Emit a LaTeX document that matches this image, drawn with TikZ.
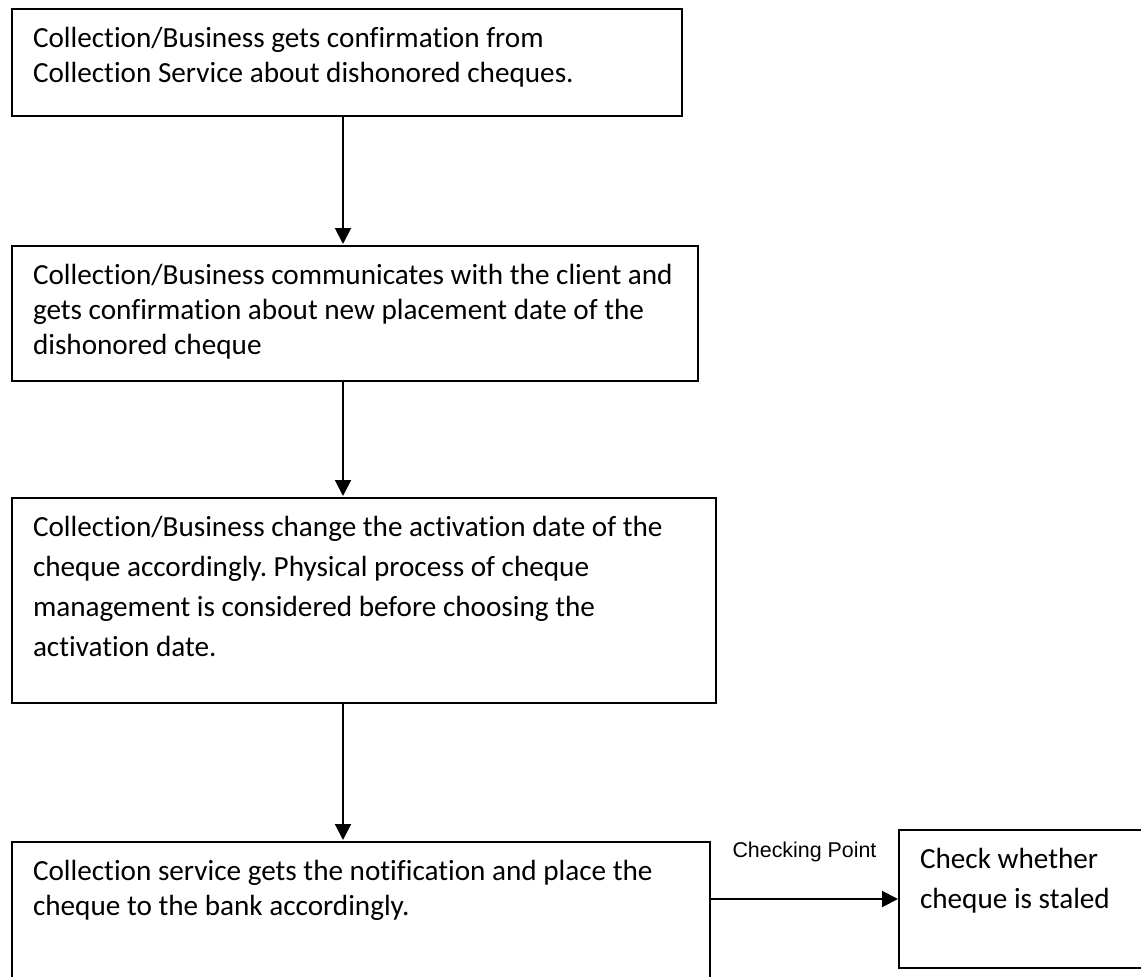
\documentclass[tikz,border=0pt]{standalone}
\usepackage{fontspec}
\setmainfont[Ligatures=CommonOff]{Carlito}
\newfontfamily\labelfont{Liberation Sans}
\usetikzlibrary{arrows.meta}
\setlength\parindent{0pt}
\frenchspacing

% #1 box width, #2 box height, #3 line spacing, #4 lines of text (top aligned)
\newcommand\flowtext[4]{%
  \parbox[c][#2][t]{#1}{\fontsize{29.2pt}{#3}\selectfont
    \leftskip=21pt\relax\rule{0pt}{38pt}#4}}

\begin{document}
\begin{tikzpicture}[x=1pt,y=-1pt,
  stepbox/.style={draw, line width=2.2pt, anchor=north west,
    inner sep=0pt, outer sep=0pt},
  flow/.style={line width=2pt, -{Triangle[length=16pt,width=16pt]},
    shorten >=2pt},
  tag/.style={font=\labelfont\fontsize{21.4pt}{25pt}\selectfont}]
\useasboundingbox (0,0) rectangle (1141,977);
\clip (0,0) rectangle (1141,977);
\fill[white] (0,0) rectangle (1141,977);

% process steps
\node[stepbox] (b1) at (12,9) {\flowtext{670pt}{107pt}{35pt}{%
  Collection/Business gets confirmation from\\
  Collection Service about dishonored cheques.}};
\node[stepbox] (b2) at (12,246) {\flowtext{686pt}{135pt}{35pt}{%
  Collection/Business communicates with the client and\\
  gets confirmation about new placement date of the\\
  dishonored cheque}};
\node[stepbox] (b3) at (12,498) {\flowtext{704pt}{205pt}{40pt}{%
  Collection/Business change the activation date of the\\
  cheque accordingly. Physical process of cheque\\
  management is considered before choosing the\\
  activation date.}};
\node[stepbox] (b4) at (12,842) {\flowtext{698pt}{150pt}{35pt}{%
  Collection service gets the notification and place the\\
  cheque to the bank accordingly.}};
\node[stepbox] (b5) at (899,830) {\flowtext{252pt}{138pt}{40pt}{%
  Check whether\\
  cheque is staled}};

% connectors
\coordinate (spine) at (343,0);
\draw[flow] (b1.south -| spine) -- (b2.north -| spine);
\draw[flow] (b2.south -| spine) -- (b3.north -| spine);
\draw[flow] (b3.south -| spine) -- (b4.north -| spine);
\draw[flow, shorten >=1pt] (b5.west -| b4.east) -- (b5.west)
  node[midway, yshift=47pt, tag] (cp) {Checking Point};
\end{tikzpicture}
\end{document}
